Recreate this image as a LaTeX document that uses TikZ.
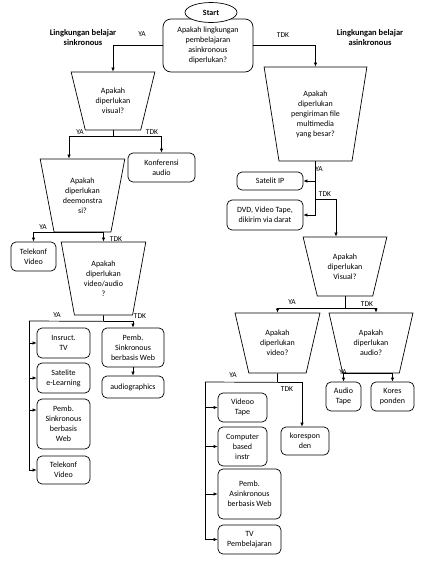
\documentclass[tikz,border=0pt]{standalone}
\usepackage{fontspec}
\setmainfont{Carlito}
\usetikzlibrary{arrows.meta,shapes.geometric}

\begin{document}
\begin{tikzpicture}[
  x=1pt, y=-1pt,
  line width=0.7pt,
  font=\fontsize{8}{10}\selectfont,
  box/.style={draw, rounded corners=5pt, align=center, inner sep=1pt},
  decbox/.style={draw, trapezium, trapezium stretches=true, shape border rotate=180, trapezium angle=#1, align=center, inner sep=0pt},
  decbox/.default=72,
  lbl/.style={inner sep=0pt, font=\fontsize{7.5}{9}\selectfont},
  head/.style={align=center, inner sep=0pt, font=\fontsize{8.5}{10}\selectfont\bfseries},
  arrow/.style={-{Latex[length=4pt,width=3.5pt]}}
]
\useasboundingbox (0,0) rectangle (440,582);

% start
\node[box, rounded corners=8pt, minimum width=90pt, minimum height=53pt] (q0) at (208,45.5) {Apakah lingkungan\\pembelajaran\\asinkronous\\diperlukan?};
\node[draw, ellipse, fill=white, minimum width=52pt, minimum height=20pt, inner sep=0pt, font=\fontsize{8}{10}\selectfont\bfseries] (start) at (211,12.5) {Start};
\node[head] (hsync) at (83,38) {Lingkungan belajar\\sinkronous};
\node[head] (hasync) at (370,38) {Lingkungan belajar\\asinkronous};

% sinkronous
\node[decbox=71, minimum width=84pt, minimum height=58pt] (qvis) at (113,101) {Apakah\\diperlukan\\visual?};
\node[box, minimum width=67pt, minimum height=29pt] (konf) at (161.5,167.5) {Konferensi\\audio};
\node[decbox=75, minimum width=85pt, minimum height=73pt] (qdemo) at (82.5,195.5) {Apakah\\diperlukan\\deemonstra\\si?};
\node[box, minimum width=45pt, minimum height=29pt] (telv1) at (33.5,256.5) {Telekonf\\Video};
\node[decbox=76, minimum width=85pt, minimum height=73pt] (qav) at (103.5,278.5) {Apakah\\diperlukan\\video/audio\\?};
\node[box, minimum width=53pt, minimum height=30pt] (itv) at (63.5,343) {Insruct.\\TV};
\node[box, minimum width=53pt, minimum height=30pt] (sel) at (63.5,378) {Satelite\\e-Learning};
\node[box, minimum width=53pt, minimum height=50pt] (psw1) at (63.5,424) {Pemb.\\Sinkronous\\berbasis\\Web};
\node[box, minimum width=53pt, minimum height=28pt] (telv2) at (63.5,470) {Telekonf\\Video};
\node[box, minimum width=62pt, minimum height=39pt] (psw2) at (133,347.5) {Pemb.\\Sinkronous\\berbasis Web};
\node[box, minimum width=62pt, minimum height=22pt] (audg) at (133,387) {audiographics};

% asinkronous
\node[decbox=78, minimum width=103pt, minimum height=94pt] (qmm) at (315.5,114) {Apakah\\diperlukan\\pengiriman file\\multimedia\\yang besar?};
\node[box, minimum width=66pt, minimum height=18pt] (satip) at (270,181) {Satelit IP};
\node[box, minimum width=76pt, minimum height=30pt] (dvd) at (265,215) {DVD, Video Tape,\\dikirim via darat};
\node[decbox=71, minimum width=84pt, minimum height=59pt] (qvis2) at (345,266.5) {Apakah\\diperlukan\\Visual?};
\node[decbox=72, minimum width=85pt, minimum height=60pt] (qvid) at (277.5,343) {Apakah\\diperlukan\\video?};
\node[decbox=72, minimum width=84pt, minimum height=60pt] (qaud) at (371,343) {Apakah\\diperlukan\\audio?};
\node[box, minimum width=35pt, minimum height=29pt] (atape) at (343.5,396.5) {Audio\\Tape};
\node[box, minimum width=43pt, minimum height=29pt] (kores) at (392.5,396.5) {Kores\\ponden};
\node[box, minimum width=49pt, minimum height=29pt] (vtape) at (242.5,407.5) {Videoo\\Tape};
\node[box, minimum width=49pt, minimum height=39pt] (cbi) at (242.5,446.5) {Computer\\based\\instr};
\node[box, minimum width=63pt, minimum height=50pt] (paw) at (249.5,494) {Pemb.\\Asinkronous\\berbasis Web};
\node[box, minimum width=63pt, minimum height=29pt] (tvp) at (249.5,539.5) {TV\\Pembelajaran};
\node[box, minimum width=48pt, minimum height=28pt] (korr) at (305,441) {korespon\\den};

% labels
\node[lbl] (ya0) at (142,34) {YA};
\node[lbl] (tdk0) at (283,35) {TDK};
\node[lbl] (ya1) at (80,132) {YA};
\node[lbl] (tdk1) at (152,132) {TDK};
\node[lbl] (ya2) at (43,227) {YA};
\node[lbl] (tdk2) at (116,239) {TDK};
\node[lbl] (ya3) at (57,315) {YA};
\node[lbl] (tdk3) at (140,316) {TDK};
\node[lbl] (ya4) at (319,169) {YA};
\node[lbl] (tdk4) at (325,194) {TDK};
\node[lbl] (ya5) at (292,302) {YA};
\node[lbl] (tdk5) at (367,304) {TDK};
\node[lbl] (ya6) at (233,375) {YA};
\node[lbl] (tdk6) at (287,389) {TDK};
\node[lbl] (ya7) at (343,372) {YA};

% connectors
\draw[arrow] (q0.west) -| (qvis.north);
\draw[arrow] (q0.east) -| (qmm.north);

\coordinate (j1) at ([yshift=-6pt]qvis.south);
\draw (qvis.south) -- (j1);
\draw[arrow] (j1) -| ([xshift=-13.5pt]qdemo.north);
\draw[arrow] (j1) -| (konf.north);
\draw[arrow] (qdemo.south) -| (telv1.north);
\draw[arrow] (qdemo.south) -| (qav.north);

\coordinate (j2) at ([yshift=-6pt]qav.south);
\coordinate (bus1) at (29,321);
\coordinate (p1) at ([yshift=14pt]psw1.west);
\draw (qav.south) -- (j2) -- (bus1);
\draw[arrow] (j2) -| (psw2.north);
\draw[arrow] (bus1 |- itv.west) -- (itv.west);
\draw[arrow] (bus1 |- sel.west) -- (sel.west);
\draw[arrow] (bus1 |- p1) -- (p1);
\draw[arrow] (bus1) |- (telv2.west);
\draw[arrow] (psw2.south) -- (audg.north);

\coordinate (j4) at ([yshift=-38pt]qmm.south);
\draw[arrow] (qmm.south |- satip.east) -- (satip.east);
\draw[arrow] (qmm.south) |- (dvd.east);
\draw[arrow] (j4) -| ([xshift=-9pt]qvis2.north);

\coordinate (j5) at ([yshift=-12pt]qvis2.south);
\draw (qvis2.south) -- (j5);
\draw[arrow] (j5) -| (qvid.north);
\draw[arrow] (j5) -| ([xshift=5pt]qaud.north);
\draw[arrow] (qaud.south) -| (atape.north);
\draw[arrow] (qaud.south) -| (kores.north);

\coordinate (j6) at ([yshift=-9pt]qvid.south);
\coordinate (bus2) at (205,382);
\draw (qvid.south) -- (j6) -- (bus2);
\draw[arrow] (j6) -| ([xshift=-3pt]korr.north);
\draw[arrow] (bus2 |- vtape.west) -- (vtape.west);
\draw[arrow] (bus2 |- cbi.west) -- (cbi.west);
\draw[arrow] (bus2 |- paw.west) -- (paw.west);
\draw[arrow] (bus2) |- (tvp.west);
\end{tikzpicture}
\end{document}
